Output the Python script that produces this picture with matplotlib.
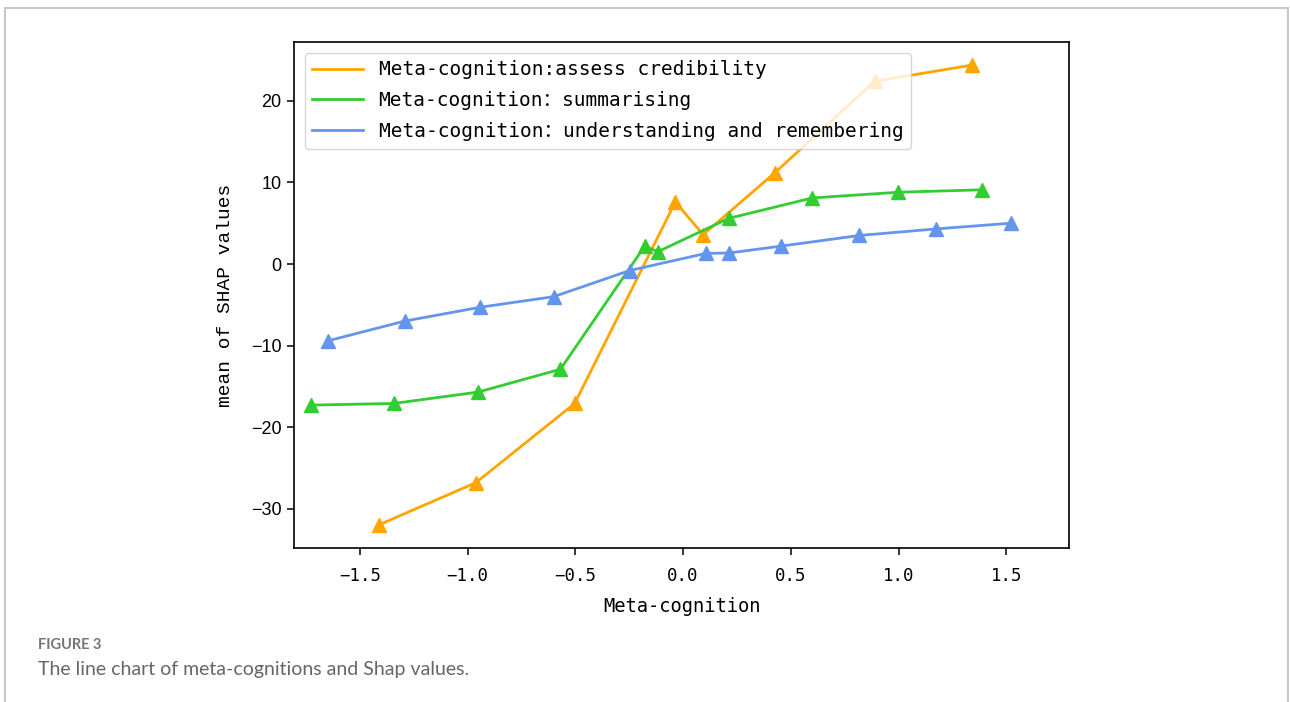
import matplotlib
matplotlib.use("Agg")
import matplotlib.pyplot as plt
from matplotlib.patches import Rectangle

# valores
x_cred = [-1.413, -0.961, -0.503, -0.036, 0.093, 0.426, 0.888, 1.342]
y_cred = [-32.0, -26.8, -17.1, 7.6, 3.6, 11.2, 22.4, 24.4]

x_summ = [-1.725, -1.343, -0.951, -0.569, -0.178, -0.118, 0.212, 0.599, 0.998, 1.386]
y_summ = [-17.3, -17.1, -15.7, -12.9, 2.2, 1.5, 5.6, 8.1, 8.8, 9.1]

x_und = [-1.645, -1.292, -0.941, -0.600, -0.248, 0.105, 0.212, 0.456, 0.818, 1.173, 1.519]
y_und = [-9.4, -7.0, -5.3, -4.0, -0.8, 1.3, 1.35, 2.2, 3.5, 4.3, 5.0]

labels = ["Meta-cognition:assess credibility",
          "Meta-cognition\uff1asummarising",
          "Meta-cognition\uff1aunderstanding and remembering"]
colors = ["orange", "limegreen", "cornflowerblue"]

mono = ["DejaVu Sans Mono", "Noto Sans CJK SC"]

fig = plt.figure(figsize=(12.9, 7.02), dpi=100)
ax = fig.add_axes([294/1290, 1-548/702, (1069-294)/1290, (548-42)/702])

# linea con etiqueta, marcadores aparte (la leyenda solo lleva la linea)
for xs, ys, lab, c in zip([x_cred, x_summ, x_und], [y_cred, y_summ, y_und], labels, colors):
    ax.plot(xs, ys, color=c, lw=2.0, label=lab)
    ax.plot(xs, ys, color=c, lw=0, marker="^", ms=10)

ax.set_xlim(-1.805, 1.79)
ax.set_xticks([-1.5, -1.0, -0.5, 0.0, 0.5, 1.0, 1.5])
ax.set_xticklabels(["\u22121.5", "\u22121.0", "\u22120.5", "0.0", "0.5", "1.0", "1.5"],
                   family=mono, fontsize=12.5)
ax.set_yticks([-30, -20, -10, 0, 10, 20])
ax.set_yticklabels(["\u221230", "\u221220", "\u221210", "0", "10", "20"],
                   family="Liberation Sans", fontsize=13)
ax.tick_params(length=5, width=1.1)
ax.tick_params(axis="x", pad=9)
ax.tick_params(axis="y", pad=4)
for s in ax.spines.values():
    s.set_linewidth(1.2)

ax.set_xlabel("Meta-cognition", family=mono, fontsize=13.5, labelpad=8)
ax.set_ylabel("mean of SHAP values", family="Liberation Mono", fontsize=14, labelpad=12)

ax.legend(loc="upper left", prop={"family": mono, "size": 14},
          handlelength=2.6, borderaxespad=0.55, labelspacing=0.6)

# marco de la figura
fig.patches.append(Rectangle((5/1290, -0.1), (1288-5)/1290, 1.1 - 8/702,
                             transform=fig.transFigure, fill=False,
                             edgecolor="#c8c8c8", lw=1.5))

fig.text(38/1290, 1-645/702, "FIGURE 3", family="Lato", fontweight="bold",
         fontsize=10.5, color="#777777", va="center")
fig.text(38/1290, 1-670/702, "The line chart of meta-cognitions and Shap values.",
         family="Lato", fontsize=14, color="#666666", va="center")

fig.savefig("out.png", dpi=100)
